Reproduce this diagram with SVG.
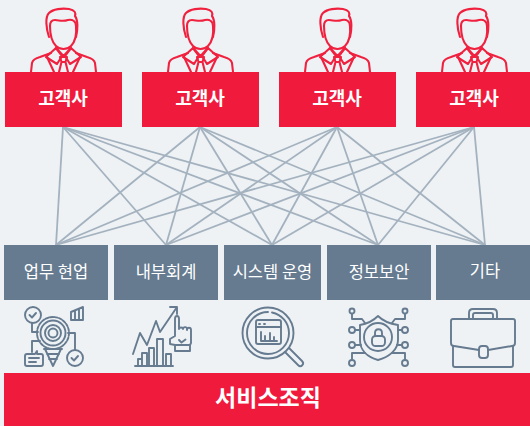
<svg xmlns="http://www.w3.org/2000/svg" width="530" height="426" viewBox="0 0 530 426">
<style>
text{font-family:"Noto Sans CJK KR","Noto Sans",sans-serif;text-anchor:middle}
.r{fill:#f01a3c}.g{fill:#667b90}
.rt{fill:#fff;font-size:18px;font-weight:700}
.gt{fill:#fff;font-size:16.500px}
.c line{stroke:#a4b2bf;stroke-width:1.8}
.pi{fill:none;stroke:#f0213f;stroke-width:2.100;stroke-linejoin:round;stroke-linecap:round}
.ic{fill:none;stroke:#667b90;stroke-width:1.900;stroke-linejoin:round;stroke-linecap:round}
</style>
<defs>
<g id="person" class="pi">
<path d="M49 37C46 28 45 17 49 13C53 9 62 8 69 9C75 10 76 13 75 16C78 20 78 29 76 37"/>
<path d="M50 26C50 37 52 42 56 46C60 50 67 50 71 46C75 42 77 37 76 26C76 21 72 19 68 20C62 22 59 20 55 20C52 20 50 22 50 26Z"/>
<path d="M31 72L32 63C33 59 36 58 40 57L51 53M96 72L95 63C94 59 91 58 87 57L76 53"/>
<path d="M56 48L46 57L57 64L62 56ZM71 48L81 57L70 64L65 56Z"/>
<path d="M56 48L63.500 56L71 48M60 57H67L65.500 62L68 72M60 57L61.500 62L59 72M61.500 62H65.500"/>
<path d="M47 57L54 72M80 57L73 72"/>
</g>
</defs>
<rect width="530" height="426" fill="#eef2f5"/>
<g id="connectors" class="c">
<line x1="63" y1="127" x2="56" y2="245"/><line x1="63" y1="127" x2="166" y2="245"/><line x1="63" y1="127" x2="272" y2="245"/><line x1="63" y1="127" x2="378" y2="245"/><line x1="63" y1="127" x2="485" y2="245"/>
<line x1="200" y1="127" x2="56" y2="245"/><line x1="200" y1="127" x2="166" y2="245"/><line x1="200" y1="127" x2="272" y2="245"/><line x1="200" y1="127" x2="378" y2="245"/><line x1="200" y1="127" x2="485" y2="245"/>
<line x1="337" y1="127" x2="56" y2="245"/><line x1="337" y1="127" x2="166" y2="245"/><line x1="337" y1="127" x2="272" y2="245"/><line x1="337" y1="127" x2="378" y2="245"/><line x1="337" y1="127" x2="485" y2="245"/>
<line x1="474" y1="127" x2="56" y2="245"/><line x1="474" y1="127" x2="166" y2="245"/><line x1="474" y1="127" x2="272" y2="245"/><line x1="474" y1="127" x2="378" y2="245"/><line x1="474" y1="127" x2="485" y2="245"/>
</g>
<g id="customer1"><use href="#person"/><rect class="r" x="5" y="72" width="117" height="55"/><text class="rt" x="63" y="105">고객사</text></g>
<g id="customer2"><use href="#person" x="137"/><rect class="r" x="142" y="72" width="117" height="55"/><text class="rt" x="200" y="105">고객사</text></g>
<g id="customer3"><use href="#person" x="274"/><rect class="r" x="279" y="72" width="117" height="55"/><text class="rt" x="337" y="105">고객사</text></g>
<g id="customer4"><use href="#person" x="411"/><rect class="r" x="416" y="72" width="114" height="55"/><text class="rt" x="474" y="105">고객사</text></g>
<g id="dept1"><rect class="g" x="4" y="245" width="104" height="55"/><text class="gt" x="56" y="278">업무 현업</text>
<g class="ic"><circle cx="33" cy="315" r="8"/><path d="M29.500 315l2.500 2.500 4-4.500"/><path d="M32 323V332H38M32 352V341H40"/><circle cx="53" cy="333" r="16" stroke-dasharray="3 1.500"/><circle cx="53" cy="333" r="12.500"/><circle cx="53" cy="333" r="8"/><circle cx="53" cy="333" r="4.500"/><path d="M45 349L53 366L61 349M44 349H62M47 354H59M49 359H57"/><path d="M27 354H35L37 351V354H41C42 354 43 355 43 356V364C43 365 42 366 41 366H27C26 366 25 365 25 364V356C25 355 26 354 27 354ZM29 358H39M29 362H36"/><circle cx="75" cy="358" r="8"/><path d="M71.500 358l2.500 2.500 4-4.500"/><path d="M75 350V333H68"/><path d="M71 320V312L83 307V320ZM75 320V311M79 320V309"/></g></g>
<g id="dept2"><rect class="g" x="114" y="245" width="104" height="55"/><text class="gt" x="166" y="278">내부회계</text>
<g class="ic"><path d="M133 354L140 333L147 345L156 321L160 332L177 307M170 307H177V314"/><path d="M135 366H173M138 366V359H142V366M142 366V353H147V366M149 366V348H154V366M157 366V339H163V366M166 366V354H171V366"/><path d="M175 351H190V345L191 343V330C191 327 187 327 187 330V329C187 326 183 327 183 329C183 327 179 327 179 329V319C179 315 175 315 175 319V336L170 339V344L175 345ZM175 345H190M179 340l2.500 2.500 4-3"/></g></g>
<g id="dept3"><rect class="g" x="224" y="245" width="97" height="55"/><text class="gt" x="272.500" y="278">시스템 운영</text>
<g class="ic"><circle cx="268" cy="333" r="25.500"/><path d="M268 312A21 21 0 1 0 289 333A21 21 0 0 0 272 312.500" /><path d="M285 352L298 365C301 368 305 364 302 361L289 348"/><rect x="256" y="320" width="25" height="24" rx="2"/><path d="M256 327H281M259 324H260M264 324H265M261 341H277M261 341V332M265 341V336M270 341V333M274 341V337"/></g></g>
<g id="dept4"><rect class="g" x="327" y="245" width="104" height="55"/><text class="gt" x="379" y="278">정보보안</text>
<g class="ic"><path d="M378 316C383 321 391 324 398 325V340C398 350 389 357 378 360C367 357 360 350 360 340V325C366 324 373 321 378 316Z"/><circle cx="378" cy="337" r="14"/><rect x="372" y="336" width="13" height="10" rx="3.500"/><path d="M375 336V333C375 328 382 328 382 333V336"/><circle cx="352" cy="311" r="2.500"/><circle cx="405" cy="311" r="2.500"/><circle cx="352" cy="330" r="3"/><circle cx="405" cy="330" r="3"/><circle cx="352" cy="345" r="3"/><circle cx="405" cy="345" r="3"/><circle cx="352" cy="363" r="3"/><circle cx="405" cy="363" r="3"/><path d="M352 314V319H362L365 323M405 314V319H395L392 323M355 330H360M402 330H398M355 345H361M402 345H397M352 360V353H365M405 360V353H392"/></g></g>
<g id="dept5"><rect class="g" x="436" y="245" width="94" height="55"/><text class="gt" x="485" y="277">기타</text>
<g class="ic"><path d="M469 319V313C469 310 471 309 473 309H493C495 309 497 310 497 313V319M473 319V315C473 314 474 313 475 313H491C492 313 493 314 493 315V319"/><path d="M479 350L454 346C452 346 451 345 451 343V321C451 320 452 319 453 319H513C514 319 515 320 515 321V343C515 345 514 346 512 346L488 350"/><path d="M453 346V365C453 366 454 367 455 367H511C512 367 513 366 513 365V346"/><rect x="479" y="346" width="9" height="12" rx="3"/></g></g>
<g id="service"><rect class="r" x="4" y="373" width="526" height="53"/><text x="268" y="406" fill="#fff" font-size="23" font-weight="700">서비스조직</text></g>
</svg>
